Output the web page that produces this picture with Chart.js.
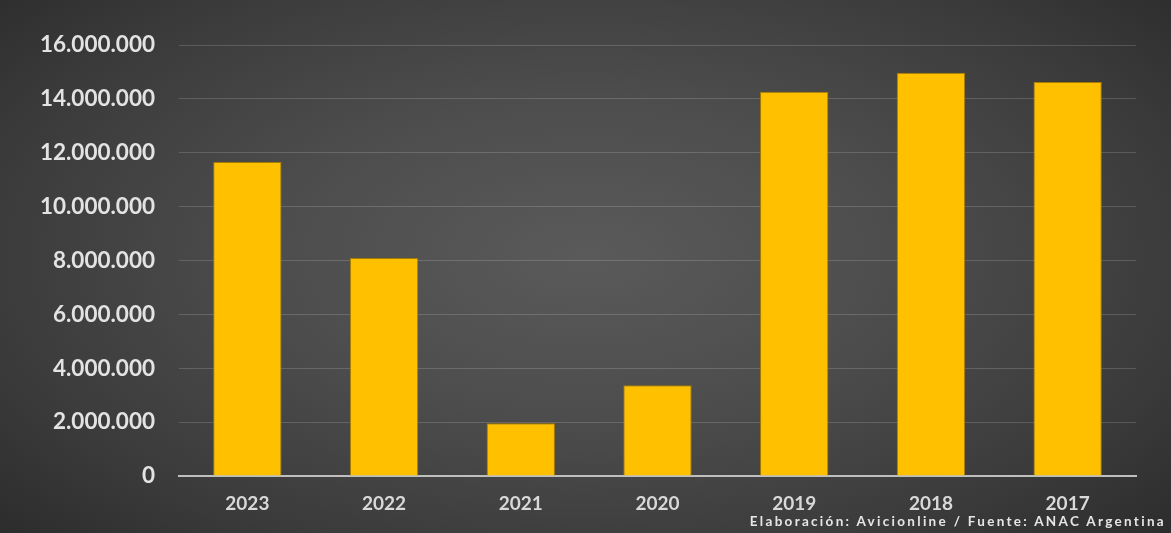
<!DOCTYPE html>
<html>
<head>
<meta charset="utf-8">
<script src="https://cdn.jsdelivr.net/npm/chart.js@4.4.1/dist/chart.umd.min.js"></script>
<style>
  html, body { margin: 0; padding: 0; }
  body { width: 1171px; height: 533px; overflow: hidden; }
  #wrap {
    position: relative; width: 1171px; height: 533px;
    background: radial-gradient(ellipse 75% 85% at 50% 48%, #5a5a5a 0%, #4d4d4d 35%, #3a3a3a 70%, #262626 100%);
  }
  #c { position: absolute; left: 0; top: 0; }
  #note {
    position: absolute; right: 5px; top: 513px;
    font-family: "Lato", "Open Sans", sans-serif; font-weight: bold;
    font-size: 13.5px; letter-spacing: 2.3px; color: #e6e6e6; white-space: nowrap;
  }
</style>
</head>
<body>
<div id="wrap">
  <canvas id="c" width="1171" height="533"></canvas>
  <div id="note">Elaboración: Avicionline / Fuente: ANAC Argentina</div>
</div>
<script>
const categories = ["2023", "2022", "2021", "2020", "2019", "2018", "2017"];
const values = [11660000, 8090000, 1960000, 3370000, 14260000, 14970000, 14630000];
const yMin = 0, yMax = 16000000, yStep = 2000000;

function fmt(v) {
  return String(Math.round(v)).replace(/\B(?=(\d{3})+(?!\d))/g, ".");
}

new Chart(document.getElementById("c"), {
  type: "bar",
  data: {
    labels: categories,
    datasets: [{
      data: values,
      backgroundColor: "#FFC000",
      borderColor: "#A67C00",
      borderWidth: 1,
      barPercentage: 0.5,
      categoryPercentage: 1.0
    }]
  },
  options: {
    responsive: false,
    animation: false,
    layout: { padding: { left: 0, right: 35, top: 45, bottom: 0 } },
    plugins: { legend: { display: false }, tooltip: { enabled: false } },
    scales: {
      x: {
        grid: { display: false },
        border: { display: true, color: "#bfbfbf", width: 2 },
        ticks: {
          color: "#d9d9d9", padding: 8,
          font: { family: "Lato, 'Open Sans', sans-serif", size: 19, weight: "bold" }
        },
        afterFit: (s) => { s.height = 533 - 476; }
      },
      y: {
        min: yMin, max: yMax,
        grid: { color: "rgba(255,255,255,0.16)", lineWidth: 1, drawTicks: false },
        border: { display: false },
        ticks: {
          stepSize: yStep, color: "#e3e3e3", padding: 24,
          font: { family: "Lato, 'Open Sans', sans-serif", size: 22.5, weight: "bold" },
          callback: (v) => fmt(v)
        },
        afterFit: (s) => { s.width = 179; }
      }
    }
  }
});
</script>
</body>
</html>
